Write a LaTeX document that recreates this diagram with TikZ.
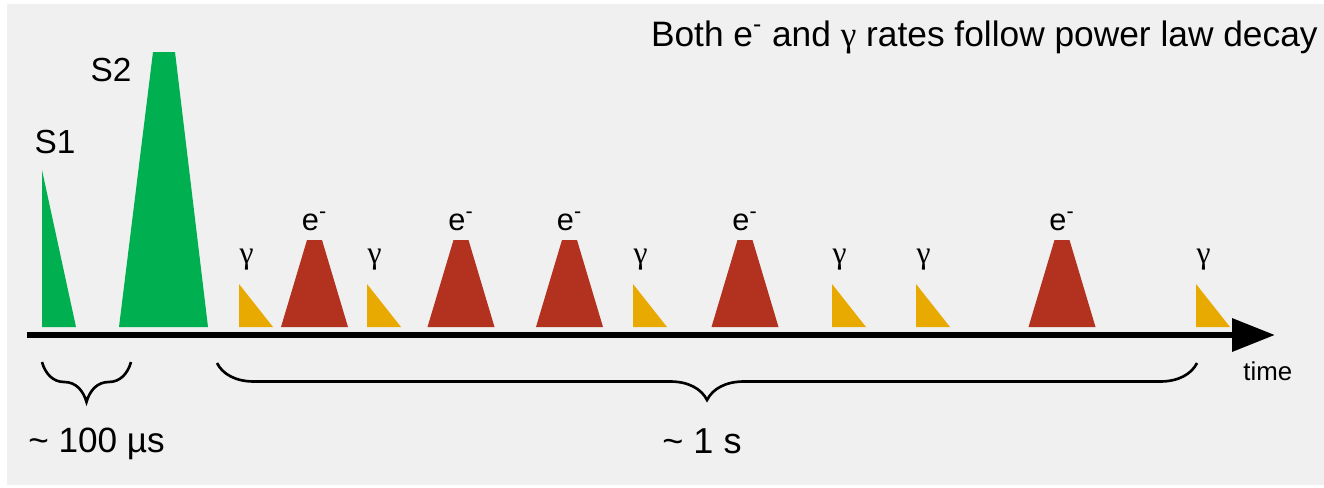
\documentclass[tikz,border=0pt]{standalone}
\usepackage{fontspec}
\setmainfont{Liberation Sans}
\newfontfamily\grk{Liberation Serif}
\usetikzlibrary{arrows.meta,decorations.pathreplacing}
\definecolor{sgreen}{HTML}{00B050}
\definecolor{ered}{HTML}{B3311F}
\definecolor{gorange}{HTML}{E8A900}
\definecolor{bggray}{HTML}{F0F0F0}
\begin{document}
\begin{tikzpicture}[x=0.02cm,y=-0.02cm,
  lbl/.style={font=\fontsize{19}{22}\selectfont, inner sep=0pt},
  glbl/.style={font=\grk\fontsize{18}{20}\selectfont, inner sep=0pt},
  brc/.style={decorate, decoration={brace, mirror, amplitude=#1}, line width=1.5pt}]
\useasboundingbox (0,0) rectangle (1324,487);
\fill[bggray] (7,4) rectangle (1324,485);
% title
\node[font=\fontsize{20.1}{24}\selectfont, inner sep=0pt, anchor=base east] (title) at (1318,46)
  {Both e\textsuperscript{-} and {\grk γ} rates follow power law decay};
% S1 and S2
\fill[sgreen] (42,327) -- (42,170) -- (76,327) -- cycle;
\fill[sgreen] (119,327) -- (153,52) -- (175,52) -- (208,327) -- cycle;
\node[lbl, anchor=base] (s1) at (55,153) {S1};
\node[lbl, anchor=base] (s2) at (111,81) {S2};
% electrons
\foreach \cx [count=\i] in {314.5,461,569.5,745,1062} {
  \fill[ered] (\cx-33.5,327) -- (\cx-7.5,240) -- (\cx+7.5,240) -- (\cx+33.5,327) -- cycle;
  \node[lbl, font=\fontsize{17.5}{20}\selectfont, anchor=base] (e\i) at (\cx,230) {e\textsuperscript{-}};
}
% gammas
\foreach \gx [count=\i] in {239,367,633,832,916,1196} {
  \fill[gorange] (\gx,327) -- (\gx,284) -- (\gx+34,327) -- cycle;
  \node[glbl] (g\i) at (\gx+7.5,260) {γ};
}
% time axis
\coordinate (t0) at (27,335);
\coordinate (t1) at (1275,335);
\draw[line width=3.7pt, -{Triangle[length=0.86cm,width=0.64cm]}] (t0) -- (t1);
\node[inner sep=0pt, font=\fontsize{14.7}{17}\selectfont, anchor=base west] (time) at (1243,380) {time};
% braces
\coordinate (b0) at (42,362);
\coordinate (b1) at (131,362);
\coordinate (b2) at (217,363);
\coordinate (b3) at (1197,363);
\draw[brc=0.8cm] (b0) -- (b1);
\draw[brc=0.74cm] (b2) -- (b3);
\node[inner sep=0pt, font=\fontsize{20}{24}\selectfont, anchor=base west] (fast) at (28,452) {\textasciitilde{} 100 µs};
\node[inner sep=0pt, font=\fontsize{20.5}{24}\selectfont, anchor=base] (slow) at (702,453) {\textasciitilde{} 1 s};
\end{tikzpicture}
\end{document}
